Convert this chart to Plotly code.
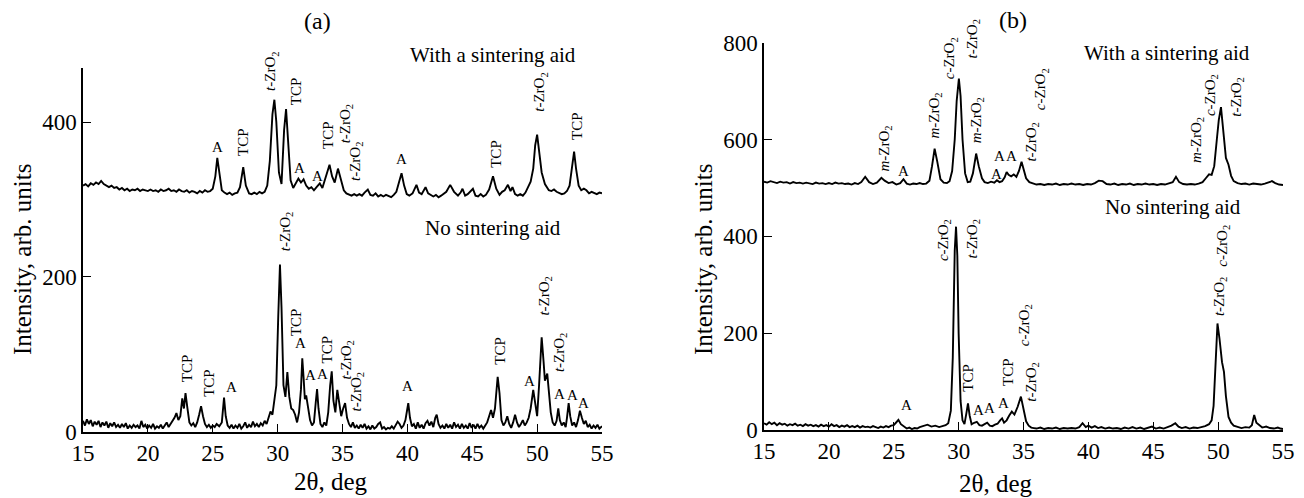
import plotly.graph_objects as go

# ---------------- Panel (a) : with a sintering aid ----------------
a_aid_x = [15.0, 15.2, 15.4, 15.6, 15.8, 16.0, 16.2, 16.4, 16.6, 16.8,
           17.0, 17.2, 17.4, 17.6, 17.8, 18.0, 18.2, 18.4, 18.6, 18.8,
           19.0, 19.2, 19.4, 19.6, 19.8, 20.0, 20.2, 20.4, 20.6, 20.8,
           21.0, 21.2, 21.4, 21.6, 21.8, 22.0, 22.2, 22.4, 22.6, 22.8,
           23.0, 23.2, 23.4, 23.6, 23.8, 24.0, 24.2, 24.4, 24.6, 24.8,
           25.0, 25.2, 25.35, 25.5, 25.7, 25.9, 26.1, 26.3, 26.5, 26.7,
           26.9, 27.1, 27.35, 27.55, 27.8, 28.0, 28.2, 28.4, 28.6, 28.8,
           29.0, 29.2, 29.4, 29.6, 29.75, 29.9, 30.1, 30.3, 30.5, 30.65,
           30.8, 31.0, 31.2, 31.4, 31.6, 31.8, 32.0, 32.2, 32.4, 32.6,
           32.8, 33.0, 33.25, 33.45, 33.65, 33.8, 34.0, 34.2, 34.4, 34.65,
           34.9, 35.1, 35.3, 35.5, 35.7, 35.9, 36.1, 36.3, 36.5, 36.7,
           36.95, 37.15, 37.35, 37.55, 37.75, 37.95, 38.15, 38.35, 38.55, 38.75,
           38.95, 39.15, 39.35, 39.55, 39.75, 39.95, 40.15, 40.4, 40.7, 40.9,
           41.1, 41.4, 41.6, 41.8, 42.0, 42.2, 42.4, 42.6, 42.8, 43.0,
           43.3, 43.6, 43.9, 44.1, 44.25, 44.45, 44.65, 44.85, 45.05, 45.25,
           45.45, 45.65, 45.85, 46.05, 46.3, 46.6, 46.85, 47.1, 47.3, 47.5,
           47.75, 47.95, 48.1, 48.3, 48.5, 48.7, 48.9, 49.1, 49.3, 49.5,
           49.7, 49.85, 50.0, 50.15, 50.35, 50.6, 50.9, 51.1, 51.3, 51.5,
           51.7, 51.9, 52.1, 52.3, 52.5, 52.7, 52.85, 53.0, 53.2, 53.4,
           53.6, 53.8, 54.0, 54.2, 54.4, 54.6, 54.8, 55.0]
a_aid_y = [318, 320, 317, 321, 319, 322, 320, 324, 320, 318,
           316, 318, 315, 316, 313, 315, 312, 314, 311, 313,
           312, 314, 311, 313, 312, 311, 313, 311, 312, 310,
           313, 311, 312, 314, 311, 312, 310, 313, 311, 310,
           312, 309, 311, 310, 308, 311, 309, 312, 310, 311,
           314, 330, 354, 335, 312, 309, 307, 309, 306, 308,
           309, 316, 342, 318, 308, 307, 309, 307, 310, 308,
           310, 318, 350, 410, 429, 400, 335, 320, 390, 417,
           380, 325, 315, 322, 327, 322, 326, 318, 314, 316,
           312, 316, 321, 315, 325, 335, 345, 330, 322, 340,
           326, 312, 308, 306, 305, 307, 305, 307, 305, 309,
           313, 306, 305, 308, 304, 306, 304, 306, 305, 303,
           306, 310, 322, 334, 318, 307, 305, 308, 319, 309,
           307, 316, 308, 306, 304, 306, 303, 305, 307, 310,
           319, 310, 305, 309, 314, 305, 307, 311, 314, 305,
           304, 307, 304, 306, 313, 330, 314, 306, 310, 312,
           319, 311, 316, 307, 305, 307, 305, 309, 315, 323,
           340, 370, 384, 365, 335, 320, 312, 311, 313, 310,
           309, 307, 308, 311, 318, 345, 362, 340, 318, 312,
           314, 312, 308, 310, 309, 307, 309, 308]

# ---------------- Panel (a) : no sintering aid ----------------
a_no_x = [15.0, 15.15, 15.3, 15.45, 15.6, 15.75, 15.9, 16.05, 16.2, 16.35,
          16.5, 16.65, 16.8, 16.95, 17.1, 17.25, 17.4, 17.55, 17.7, 17.85,
          18.0, 18.15, 18.3, 18.45, 18.6, 18.75, 18.9, 19.05, 19.2, 19.35,
          19.5, 19.65, 19.8, 19.95, 20.1, 20.25, 20.4, 20.55, 20.7, 20.85,
          21.0, 21.15, 21.3, 21.45, 21.6, 21.75, 21.9, 22.05, 22.2, 22.35,
          22.5, 22.65, 22.78, 22.9, 23.05, 23.2, 23.35, 23.5, 23.65, 23.8,
          23.95, 24.1, 24.25, 24.4, 24.55, 24.7, 24.85, 25.0, 25.15, 25.3,
          25.5, 25.7, 25.87, 26.0, 26.15, 26.3, 26.45, 26.6, 26.75, 26.9,
          27.05, 27.2, 27.35, 27.5, 27.65, 27.8, 27.95, 28.1, 28.25, 28.4,
          28.55, 28.7, 28.85, 29.0, 29.15, 29.3, 29.45, 29.6, 29.75, 29.9,
          30.05, 30.18, 30.3, 30.45, 30.6, 30.75, 30.9, 31.05, 31.2, 31.35,
          31.5, 31.65, 31.8, 31.9, 32.0, 32.1, 32.2, 32.35, 32.5, 32.65,
          32.8, 32.95, 33.04, 33.15, 33.3, 33.45, 33.6, 33.75, 33.9, 34.05,
          34.17, 34.3, 34.45, 34.6, 34.75, 34.9, 35.05, 35.2, 35.35, 35.5,
          35.65, 35.8, 35.95, 36.1, 36.25, 36.4, 36.55, 36.7, 36.85, 37.0,
          37.15, 37.3, 37.45, 37.6, 37.75, 37.9, 38.05, 38.2, 38.35, 38.5,
          38.65, 38.8, 38.95, 39.1, 39.25, 39.4, 39.55, 39.7, 39.85, 40.0,
          40.07, 40.2, 40.35, 40.5, 40.65, 40.8, 40.95, 41.1, 41.25, 41.4,
          41.55, 41.7, 41.85, 42.0, 42.15, 42.26, 42.4, 42.55, 42.7, 42.85,
          43.0, 43.15, 43.3, 43.45, 43.6, 43.75, 43.9, 44.05, 44.2, 44.35,
          44.5, 44.65, 44.8, 44.95, 45.1, 45.25, 45.4, 45.55, 45.7, 45.85,
          46.0, 46.15, 46.3, 46.45, 46.6, 46.75, 46.96, 47.1, 47.25, 47.4,
          47.55, 47.7, 47.85, 48.0, 48.15, 48.3, 48.45, 48.6, 48.75, 48.9,
          49.05, 49.2, 49.35, 49.5, 49.7, 49.85, 50.0, 50.15, 50.35, 50.5,
          50.6, 50.78, 50.9, 51.05, 51.2, 51.35, 51.5, 51.63, 51.75, 51.9,
          52.05, 52.2, 52.3, 52.43, 52.55, 52.7, 52.85, 53.0, 53.15, 53.3,
          53.45, 53.6, 53.75, 53.9, 54.05, 54.2, 54.35, 54.5, 54.65, 54.8,
          55.0]
a_no_y = [14, 8, 16, 10, 15, 7, 13, 9, 14, 6,
          12, 8, 13, 5, 11, 7, 12, 6, 9, 5,
          10, 6, 11, 4, 8, 5, 9, 6, 8, 4,
          14, 6, 9, 4, 8, 5, 10, 4, 7, 5,
          9, 4, 8, 12, 6, 10, 14, 18, 24, 15,
          20, 43, 30, 50, 30, 12, 8, 11, 6, 12,
          22, 33, 20, 10, 6, 9, 5, 8, 6, 10,
          7, 12, 44, 20, 8, 5, 9, 4, 8, 5,
          10, 4, 7, 12, 5, 9, 6, 13, 7, 10,
          6, 11, 8, 14, 10, 18, 26, 22, 38, 60,
          150, 216, 160, 60, 45, 77, 45, 30, 28, 22,
          12, 25, 55, 95, 70, 42, 47, 30, 15, 8,
          12, 40, 55, 30, 10, 6, 12, 8, 25, 60,
          78, 40, 25, 54, 35, 20, 30, 37, 18, 10,
          6, 12, 5, 8, 4, 9, 5, 10, 4, 7,
          3, 8, 4, 6, 10, 12, 4, 6, 3, 5,
          4, 7, 4, 9, 13, 10, 5, 8, 15, 30,
          37, 18, 7, 10, 4, 12, 5, 9, 4, 11,
          14, 8, 13, 6, 18, 22, 10, 5, 8, 4,
          10, 5, 9, 4, 12, 6, 9, 4, 10, 5,
          8, 4, 11, 5, 9, 4, 10, 5, 8, 4,
          9, 12, 20, 28, 18, 30, 71, 50, 15, 8,
          12, 20, 10, 5, 12, 22, 12, 6, 10, 15,
          8, 12, 18, 30, 54, 35, 20, 60, 122, 90,
          66, 75, 50, 25, 12, 8, 14, 30, 15, 8,
          12, 6, 18, 37, 20, 8, 12, 6, 15, 27,
          18, 10, 14, 6, 9, 4, 8, 5, 9, 4,
          7]

# ---------------- Panel (b) : with a sintering aid ----------------
b_aid_x = [15.0, 15.25, 15.5, 15.75, 16.0, 16.25, 16.5, 16.75, 17.0, 17.25,
           17.5, 17.75, 18.0, 18.25, 18.5, 18.75, 19.0, 19.25, 19.5, 19.75,
           20.0, 20.25, 20.5, 20.75, 21.0, 21.25, 21.5, 21.75, 22.0, 22.25,
           22.5, 22.8, 23.1, 23.4, 23.7, 24.05, 24.3, 24.6, 24.9, 25.2,
           25.5, 25.75, 26.0, 26.25, 26.5, 26.75, 27.0, 27.25, 27.5, 27.75,
           27.95, 28.15, 28.35, 28.6, 28.85, 29.1, 29.3, 29.5, 29.7, 29.85,
           30.02, 30.15, 30.3, 30.5, 30.7, 30.9, 31.1, 31.35, 31.55, 31.8,
           32.0, 32.25, 32.5, 32.75, 32.95, 33.15, 33.35, 33.55, 33.7, 33.85,
           34.05, 34.25, 34.45, 34.65, 34.85, 35.0, 35.2, 35.45, 35.7, 36.0,
           36.3, 36.6, 36.9, 37.2, 37.5, 37.8, 38.1, 38.4, 38.7, 39.0,
           39.3, 39.6, 39.9, 40.2, 40.5, 40.8, 41.1, 41.4, 41.7, 42.0,
           42.3, 42.6, 42.9, 43.2, 43.5, 43.8, 44.1, 44.4, 44.7, 45.0,
           45.3, 45.6, 45.9, 46.2, 46.5, 46.75, 47.0, 47.3, 47.6, 47.9,
           48.2, 48.5, 48.8, 49.05, 49.3, 49.5, 49.7, 49.9, 50.05, 50.22,
           50.4, 50.6, 50.8, 51.0, 51.2, 51.5, 51.8, 52.1, 52.4, 52.7,
           53.0, 53.3, 53.6, 53.9, 54.15, 54.4, 54.7, 55.0]
b_aid_y = [513, 511, 514, 512, 510, 513, 511, 512, 509, 512,
           510, 511, 509, 511, 510, 508, 511, 509, 510, 508,
           510, 508, 511, 509, 510, 508, 509, 507, 510, 508,
           512, 523, 512, 508, 511, 521, 515, 510, 512, 507,
           510, 518, 509, 507, 509, 508, 510, 508, 509, 515,
           545, 581, 555, 518, 511, 510, 514, 535, 600, 680,
           726, 690, 600, 530, 512, 513, 530, 571, 545, 520,
           512, 510, 513, 511, 516, 512, 514, 522, 533, 527,
           524, 528, 523, 535, 554, 540, 520, 512, 509, 507,
           508, 506, 508, 507, 509, 506, 508, 507, 509, 507,
           508, 506, 508, 507, 510, 515, 514, 508, 507, 509,
           506, 508, 507, 509, 506, 508, 507, 509, 507, 508,
           506, 508, 507, 509, 512, 523, 512, 508, 507, 508,
           507, 509, 512, 520, 528, 527, 545, 600, 640, 667,
           610, 562, 548, 525, 514, 510, 508, 509, 507, 509,
           508, 507, 509, 512, 514, 510, 507, 506]

# ---------------- Panel (b) : no sintering aid ----------------
b_no_x = [15.0, 15.2, 15.4, 15.6, 15.8, 16.0, 16.2, 16.4, 16.6, 16.8,
          17.0, 17.2, 17.4, 17.6, 17.8, 18.0, 18.2, 18.4, 18.6, 18.8,
          19.0, 19.2, 19.4, 19.6, 19.8, 20.0, 20.2, 20.4, 20.6, 20.8,
          21.0, 21.2, 21.4, 21.6, 21.8, 22.0, 22.2, 22.4, 22.6, 22.8,
          23.0, 23.2, 23.4, 23.6, 23.8, 24.0, 24.2, 24.4, 24.6, 24.8,
          25.0, 25.2, 25.36, 25.55, 25.8, 26.0, 26.2, 26.4, 26.6, 26.8,
          27.0, 27.3, 27.6, 27.9, 28.2, 28.5, 28.8, 29.0, 29.2, 29.4,
          29.55, 29.7, 29.8, 29.9, 30.0, 30.15, 30.3, 30.45, 30.6, 30.72,
          30.85, 31.0, 31.2, 31.4, 31.6, 31.8, 32.0, 32.2, 32.4, 32.6,
          32.8, 33.0, 33.2, 33.35, 33.5, 33.7, 33.9, 34.1, 34.3, 34.55,
          34.8, 35.0, 35.2, 35.4, 35.6, 35.8, 36.0, 36.3, 36.6, 36.9,
          37.2, 37.5, 37.8, 38.1, 38.4, 38.7, 39.0, 39.3, 39.55, 39.8,
          40.0, 40.25, 40.5, 40.75, 41.0, 41.3, 41.6, 41.9, 42.2, 42.5,
          42.8, 43.1, 43.4, 43.7, 44.0, 44.3, 44.6, 44.9, 45.2, 45.5,
          45.8, 46.1, 46.4, 46.7, 46.95, 47.2, 47.5, 47.8, 48.1, 48.4,
          48.7, 49.0, 49.3, 49.5, 49.65, 49.8, 49.95, 50.1, 50.3, 50.45,
          50.6, 50.8, 51.0, 51.2, 51.5, 51.8, 52.1, 52.4, 52.6, 52.78,
          52.95, 53.15, 53.4, 53.7, 54.0, 54.3, 54.6, 54.8, 55.0]
b_no_y = [14, 11, 16, 12, 15, 10, 14, 11, 13, 9,
          12, 10, 13, 9, 11, 8, 12, 9, 11, 8,
          10, 7, 11, 8, 10, 7, 12, 8, 10, 6,
          9, 7, 10, 6, 8, 6, 9, 5, 8, 6,
          7, 5, 8, 6, 4, 7, 5, 8, 6, 9,
          10, 16, 21, 12, 6, 3, 5, 2, 4, 3,
          6, 8, 11, 7, 9, 6, 8, 10, 14, 40,
          150, 370, 420, 360, 200, 60, 20, 12, 35, 55,
          30, 12, 15, 17, 10, 9, 12, 15, 9, 8,
          11, 13, 20, 24, 15, 20, 30, 38, 32, 48,
          69, 45, 18, 9, 5, 4, 3, 5, 2, 4,
          3, 5, 2, 4, 3, 4, 3, 6, 14, 6,
          9, 5, 8, 4, 6, 3, 5, 3, 4, 2,
          5, 3, 6, 3, 5, 2, 4, 7, 3, 5,
          3, 6, 9, 14, 7, 4, 6, 3, 5, 4,
          6, 8, 12, 20, 50, 150, 220, 190, 140, 120,
          70, 27, 15, 9, 6, 4, 6, 5, 10, 31,
          15, 10, 5, 7, 4, 3, 5, 3, 2]

# ---------------- Peak labels ----------------
T = "<i>t</i>-ZrO<sub>2</sub>"
C = "<i>c</i>-ZrO<sub>2</sub>"
M = "<i>m</i>-ZrO<sub>2</sub>"

# (text, x, y, rotated)  rotated labels: y = bottom of the label; "A": y = centre
a_labels = [
    ("A", 25.38, 368, False), ("TCP", 27.35, 354, True), (T, 29.54, 438, True),
    ("TCP", 31.47, 419, True), ("A", 31.72, 341, False), ("A", 33.1, 331, False),
    ("TCP", 33.9, 363, True), (T, 35.23, 370, True), (T, 36.04, 322, True),
    ("A", 39.56, 352, False), ("TCP", 46.88, 338, True), (T, 50.27, 411, True),
    ("TCP", 53.13, 374, True),
    ("TCP", 22.99, 61, True), ("TCP", 24.74, 43, True), ("A", 26.46, 58, False),
    (T, 30.7, 231, True), ("TCP", 31.42, 121, True), ("A", 31.8, 114, False),
    ("A", 32.57, 73, False), ("A", 33.47, 75, False), ("TCP", 33.83, 86, True),
    (T, 35.32, 65, True), (T, 36.1, 24, True), ("A", 39.99, 59, False),
    ("TCP", 47.14, 84, True), ("A", 49.45, 66, False), (T, 50.6, 148, True),
    (T, 51.76, 75, True), ("A", 51.76, 49, False), ("A", 52.74, 48, False),
    ("A", 53.61, 37, False),
]
b_labels = [
    (M, 24.33, 530, True), ("A", 25.74, 535, False), (M, 28.18, 598, True),
    (C, 29.4, 720, True), (T, 31.1, 764, True), (M, 31.41, 588, True),
    ("A", 32.89, 528, False), ("A", 33.14, 565, False), ("A", 34.1, 565, False),
    (T, 35.64, 551, True), (C, 36.41, 656, True), (M, 48.36, 547, True),
    (C, 49.44, 644, True), (T, 51.45, 644, True),
    ("A", 26.0, 52, False), (C, 28.88, 345, True), (T, 31.1, 351, True),
    ("TCP", 30.76, 76, True), ("A", 31.53, 41, False), ("A", 32.38, 45, False),
    ("A", 33.47, 56, False), ("TCP", 33.85, 86, True), (C, 35.12, 169, True),
    (T, 35.64, 55, True), (C, 50.41, 334, True), (T, 50.1, 231, True),
]

FONT = "Liberation Serif, Times New Roman, serif"
fig = go.Figure()
line = dict(color="black", width=1.9)
fig.add_trace(go.Scatter(x=a_aid_x, y=a_aid_y, mode="lines", line=line, xaxis="x", yaxis="y"))
fig.add_trace(go.Scatter(x=a_no_x, y=a_no_y, mode="lines", line=line, xaxis="x", yaxis="y"))
fig.add_trace(go.Scatter(x=b_aid_x, y=b_aid_y, mode="lines", line=line, xaxis="x2", yaxis="y2"))
fig.add_trace(go.Scatter(x=b_no_x, y=b_no_y, mode="lines", line=line, xaxis="x2", yaxis="y2"))

ann = []
for labels, xr, yr in ((a_labels, "x", "y"), (b_labels, "x2", "y2")):
    for txt_, xv, yv, rot in labels:
        ann.append(dict(text=txt_, x=xv, y=yv, xref=xr, yref=yr, showarrow=False,
                        textangle=-90 if rot else 0, xanchor="center",
                        yanchor="bottom" if rot else "middle",
                        font=dict(family=FONT, size=15, color="black")))

def txt(t, x, y, size):
    ann.append(dict(text=t, x=x, y=y, xref="paper", yref="paper", showarrow=False,
                    xanchor="center", yanchor="middle",
                    font=dict(family=FONT, size=size, color="black")))

txt("(a)", 317 / 1304, 1 - 21 / 498, 24)
txt("(b)", 1013 / 1304, 1 - 20 / 498, 24)
txt("With a sintering aid", 492.7 / 1304, 1 - 55 / 498, 21)
txt("No sintering aid", 493.3 / 1304, 1 - 228 / 498, 21)
txt("With a sintering aid", 1166.7 / 1304, 1 - 53 / 498, 21)
txt("No sintering aid", 1173.3 / 1304, 1 - 207 / 498, 21)
txt("2θ, deg", 331 / 1304, 1 - 481 / 498, 25)
txt("2θ, deg", 996 / 1304, 1 - 483 / 498, 25)
for xp in (22 / 1304, 703 / 1304):
    ann.append(dict(text="Intensity, arb. units", x=xp, y=1 - 260 / 498, xref="paper", yref="paper",
                    showarrow=False, textangle=-90, xanchor="center", yanchor="middle",
                    font=dict(family=FONT, size=25, color="black")))

axis_common = dict(showline=True, linecolor="black", linewidth=1.5, ticks="inside", ticklen=8,
                   tickwidth=1.3, tickcolor="black", showgrid=False, zeroline=False,
                   automargin=False,
                   tickfont=dict(family=FONT, size=23, color="black"), mirror=False)
xt = [15, 20, 25, 30, 35, 40, 45, 50, 55]
fig.update_layout(
    width=1304, height=498, margin=dict(l=0, r=0, t=0, b=0),
    paper_bgcolor="white", plot_bgcolor="white", showlegend=False,
    xaxis=dict(domain=[83 / 1304, 602 / 1304], range=[15, 55], tickvals=xt, anchor="y", **axis_common),
    yaxis=dict(domain=[1 - 431.7 / 498, 1 - 68 / 498], range=[0, 470], tickvals=[0, 200, 400],
               anchor="x", **axis_common),
    xaxis2=dict(domain=[764 / 1304, 1283 / 1304], range=[15, 55], tickvals=xt, anchor="y2", **axis_common),
    yaxis2=dict(domain=[1 - 430 / 498, 1 - 42.7 / 498], range=[0, 800], tickvals=[0, 200, 400, 600, 800],
                anchor="x2", **axis_common),
    annotations=ann,
)
fig.write_html("out.html", config={"displayModeBar": False},
               post_script="document.body.style.margin='0px';document.body.style.overflow='hidden';")
